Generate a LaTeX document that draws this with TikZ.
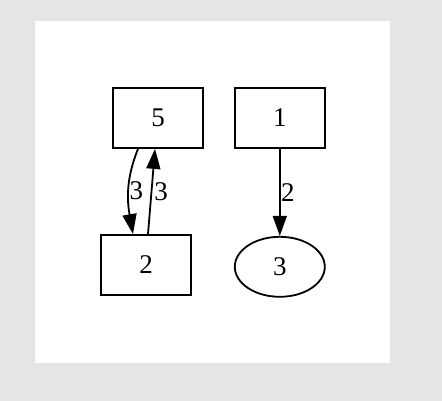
\documentclass[tikz,border=0pt]{standalone}
\usepackage{fontspec}
\setmainfont{Liberation Serif}
\usetikzlibrary{positioning,shapes,arrows.meta}
\definecolor{pagegrey}{HTML}{E5E5E5}

\begin{document}
\begin{tikzpicture}[x=1pt,y=-1pt,>={Triangle[length=20pt,width=14pt]},
  box/.style={draw,line width=1.8pt,minimum width=90pt,minimum height=60pt,font=\fontsize{27}{29}\selectfont},
  oval/.style={draw,ellipse,line width=1.8pt,minimum width=90pt,minimum height=60pt,inner sep=0pt,font=\fontsize{27}{29}\selectfont},
  lbl/.style={font=\fontsize{27}{29}\selectfont,inner sep=1pt}]
\fill[pagegrey] (0,0) rectangle (442,401);
\fill[white] (35,21) rectangle (390,363);
\useasboundingbox (0,0) rectangle (442,401);
\node[box] (n5) at (158,118) {5};
\node[box,right=30pt of n5] (n1) {1};
\node[box] (n2) at (146,265) {2};
\node[oval,below=87pt of n1] (n3) {3};
\draw[->,line width=1.8pt] ([xshift=-20pt]n5.south) to[out=-112,in=100] node[lbl,right,inner sep=0pt] {3} ([xshift=-13pt]n2.north);
\draw[->,line width=1.8pt] ([xshift=2pt]n2.north) -- node[lbl,right,inner sep=2pt] {3} ([xshift=-3pt]n5.south);
\draw[->,line width=1.8pt] (n1) -- node[lbl,right,inner sep=0.5pt] {2} (n3);
\end{tikzpicture}
\end{document}
